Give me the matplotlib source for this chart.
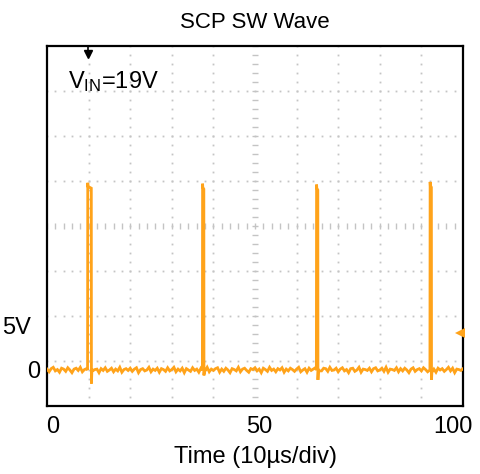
import numpy as np
import matplotlib
matplotlib.use("Agg")
import matplotlib.pyplot as plt
from matplotlib.transforms import ScaledTranslation

plt.rcParams['font.family'] = ['Liberation Sans', 'DejaVu Sans']
plt.rcParams['mathtext.fontset'] = 'custom'
plt.rcParams['mathtext.rm'] = 'Liberation Sans'
plt.rcParams['mathtext.it'] = 'Liberation Sans'

# ---------------- data ----------------
title = "SCP SW Wave"
x_label = "Time (10µs/div)"
x_ticks = [0, 50, 100]
x_tick_labels = ["0", "50", "100"]
y_ticks = [0, 5]
y_tick_labels = ["0", "5V"]
vin_label = r"$\mathrm{V_{IN}}$=19V"

trigger_time = 9.9       # black trigger marker at top
trigger_level = 4.1      # orange level marker at right edge (V)

# switching pulses: start time, width, peak (V), undershoot (V)
pulse_start = [9.8, 37.4, 64.8, 92.1]
pulse_width = [0.85, 0.3, 0.3, 0.3]
pulse_peak = [20.4, 20.3, 20.2, 20.5]
pulse_undershoot = [-1.5, -0.6, -1.1, -1.1]

# baseline samples (V) every 0.5 time units, 0..100
baseline_noise = [
    0.1, -0.2, 0.15, 0.3, -0.1, 0.05, -0.25, 0.2, 0.1, -0.15, 0.25, 0.0, -0.3, 0.1, 0.2, -0.05, 0.3, -0.2, 0.05, 0.15,
    -0.1, 0.2, -0.25, 0.05, 0.1, -0.3, 0.15, -0.05, 0.25, -0.15, 0.0, 0.2, -0.2, 0.1, -0.1, 0.3, -0.25, 0.05, 0.15, -0.05,
    0.2, -0.15, 0.1, 0.25, -0.3, 0.05, 0.15, -0.1, 0.0, 0.3, -0.2, 0.1, -0.05, 0.2, -0.25, 0.15, 0.05, -0.15, 0.25, -0.1,
    0.05, 0.3, -0.2, 0.1, -0.1, 0.2, -0.3, 0.15, 0.0, -0.15, 0.25, -0.05, 0.1, -0.25, 0.2, 0.05, -0.1, 0.3, -0.2, 0.1,
    -0.05, 0.15, 0.25, -0.25, 0.1, -0.15, 0.2, 0.0, -0.3, 0.15, 0.05, -0.1, 0.3, -0.2, 0.1, 0.2, -0.05, -0.25, 0.15, 0.05,
    0.25, -0.1, 0.1, -0.3, 0.2, 0.05, -0.15, 0.3, -0.05, 0.1, -0.2, 0.15, 0.0, 0.25, -0.25, 0.1, -0.1, 0.2, 0.05, -0.15,
    0.1, 0.3, -0.2, 0.0, 0.15, -0.25, 0.2, -0.05, 0.1, 0.25, -0.3, 0.05, -0.1, 0.2, 0.15, -0.15, 0.3, -0.05, 0.0, 0.2,
    -0.2, 0.1, 0.25, -0.1, 0.05, -0.3, 0.15, 0.2, -0.15, 0.0, 0.3, -0.25, 0.1, 0.05, -0.05, 0.2, -0.2, 0.15, 0.25, -0.1,
    0.0, 0.2, -0.15, 0.3, -0.25, 0.1, 0.05, -0.05, 0.25, -0.2, 0.15, -0.1, 0.2, 0.0, -0.3, 0.1, 0.25, -0.15, 0.05, 0.15,
    -0.1, 0.25, 0.05, -0.2, 0.3, -0.05, 0.1, -0.25, 0.2, 0.0, 0.15, -0.15, 0.05, 0.3, -0.1, 0.2, -0.3, 0.1, 0.05, -0.05, 0.15,
]
baseline_step = 0.5

# ---------------- build trace ----------------
base_t = [i * baseline_step for i in range(len(baseline_noise))]
pts = []
for t, v in zip(base_t, baseline_noise):
    inside = any(s - 0.1 <= t <= s + w + 0.4 for s, w in zip(pulse_start, pulse_width))
    if not inside:
        pts.append((t, v))
for s, w, pk, us in zip(pulse_start, pulse_width, pulse_peak, pulse_undershoot):
    pts += [(s - 0.05, 0.0), (s, pk + 0.4), (s + 0.05, pk), (s + w, pk - 0.2),
            (s + w + 0.03, us), (s + w + 0.15, 0.1), (s + w + 0.3, -0.1)]
pts.sort()
tt = [p[0] for p in pts]
vv = [p[1] for p in pts]

# ---------------- figure ----------------
W, H = 481, 474
fig = plt.figure(figsize=(W / 100, H / 100), dpi=100)
ax = fig.add_axes([47 / W, 1 - 406 / H, 416 / W, 360 / H])
xmin, xmax = 0, 100
ymin, ymax = -4, 36
ax.set_xlim(xmin, xmax)
ax.set_ylim(ymin, ymax)

# scope graticule: 10 x 8 divisions of dots
grid_col = '#c4c4c4'
xdiv = (xmax - xmin) / 10
ydiv = (ymax - ymin) / 8
for i in range(1, 10):
    x = xmin + i * xdiv
    ys = np.linspace(ymin, ymax, 41)
    if i == 5:
        ax.plot([x] * len(ys), ys, ls='none', marker='_', ms=4, mew=1.0, color=grid_col, zorder=1)
    else:
        ax.plot([x] * len(ys), ys, ls='none', marker='s', ms=1.3, mew=0, color=grid_col, zorder=1)
for j in range(1, 8):
    y = ymin + j * ydiv
    xs = np.linspace(xmin, xmax, 51)
    if j == 4:
        ax.plot(xs, [y] * len(xs), ls='none', marker='|', ms=4, mew=1.0, color=grid_col, zorder=1)
    else:
        ax.plot(xs, [y] * len(xs), ls='none', marker='s', ms=1.3, mew=0, color=grid_col, zorder=1)

trace_col = '#FFA31A'
ax.plot(tt, vv, color=trace_col, lw=2.0, zorder=3, solid_joinstyle='miter')

# markers
ax.plot([trigger_time], [ymax - 0.9], marker='v', ms=6, color='black', clip_on=False, zorder=5)
ax.plot([trigger_time, trigger_time], [ymax, ymax - 0.6], color='black', lw=1.2, clip_on=False, zorder=5)
ax.plot([xmax - 0.7], [trigger_level], marker='<', ms=7, color=trace_col, mew=0, clip_on=False, zorder=5)

ax.text(5.0, 32.0, vin_label, fontsize=17, ha='left', va='center', zorder=6)

for sp in ax.spines.values():
    sp.set_color('black')
    sp.set_linewidth(1.6)

ax.set_xticks(x_ticks)
ax.set_xticklabels(x_tick_labels)
ax.set_yticks(y_ticks)
ax.set_yticklabels(y_tick_labels)
ax.tick_params(length=0, labelsize=17)
ax.tick_params(axis='x', pad=7)
ax.tick_params(axis='y', pad=5)
ylabs = ax.get_yticklabels()
ylabs[1].set_transform(ylabs[1].get_transform() + ScaledTranslation(-9 / 100, 0, fig.dpi_scale_trans))
xlabs = ax.get_xticklabels()
for lab, dx in zip(xlabs, [6, 4, -10]):
    lab.set_transform(lab.get_transform() + ScaledTranslation(dx / 100, 0, fig.dpi_scale_trans))

ax.set_title(title, fontsize=16, pad=13)
ax.set_xlabel(x_label, fontsize=17, labelpad=6)

fig.savefig("out.png", dpi=100, facecolor='white')
